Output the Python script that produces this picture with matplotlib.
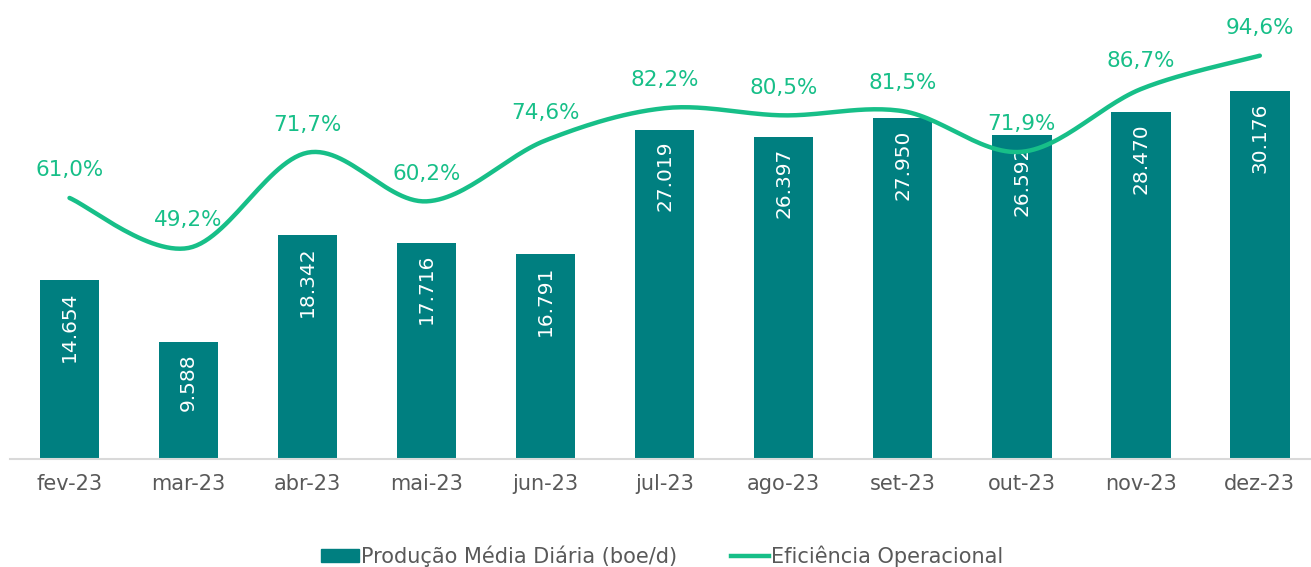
import matplotlib
matplotlib.use("Agg")
import matplotlib.pyplot as plt
import numpy as np
from matplotlib.lines import Line2D
from matplotlib.patches import Patch

# data
meses = ["fev-23", "mar-23", "abr-23", "mai-23", "jun-23", "jul-23",
         "ago-23", "set-23", "out-23", "nov-23", "dez-23"]
producao = [14654, 9588, 18342, 17716, 16791, 27019, 26397, 27950, 26592, 28470, 30176]
eficiencia = [61.0, 49.2, 71.7, 60.2, 74.6, 82.2, 80.5, 81.5, 71.9, 86.7, 94.6]

cor_barra = "#007F80"
cor_linha = "#17BF88"
cor_texto = "#595959"

plt.rcParams['font.family'] = ['DejaVu Sans']

fig = plt.figure(figsize=(13.11, 5.67), dpi=100)
ax = fig.add_axes([10/1311, 1 - 459/567, 1301/1311, 439/567])
ax2 = ax.twinx()

x = np.arange(len(meses))
ax.bar(x, producao, width=0.5, color=cor_barra, zorder=2)
ax.set_ylim(0, 36000)
ax.set_xlim(-0.5, 10.43)

# linha suavizada estilo excel (bezier catmull-rom)
def suave(xs, ys, n=30):
    px = np.concatenate([[xs[0]], xs, [xs[-1]]])
    py = np.concatenate([[ys[0]], ys, [ys[-1]]])
    ox, oy = [], []
    t = np.linspace(0, 1, n)
    for i in range(1, len(px) - 2):
        p0 = np.array([px[i], py[i]])
        p3 = np.array([px[i+1], py[i+1]])
        p1 = p0 + (np.array([px[i+1], py[i+1]]) - np.array([px[i-1], py[i-1]])) / 6
        p2 = p3 - (np.array([px[i+2], py[i+2]]) - np.array([px[i], py[i]])) / 6
        b = ((1-t)**3)[:, None]*p0 + (3*(1-t)**2*t)[:, None]*p1 + (3*(1-t)*t**2)[:, None]*p2 + (t**3)[:, None]*p3
        ox.extend(b[:, 0]); oy.extend(b[:, 1])
    return np.array(ox), np.array(oy)

sx, sy = suave(x.astype(float), np.array(eficiencia))
ax2.plot(sx, sy, color=cor_linha, lw=3.2, solid_capstyle="round", zorder=3)
ax2.set_ylim(-0.64, -0.64 + 439/4.235)

# rotulos
for xi, v in zip(x, producao):
    ax.annotate(f"{v/1000:.3f}", (xi, v), xytext=(0, -8), textcoords="offset points",
                rotation=90, ha="center", va="top", color="white", fontsize=14.5, zorder=4)
for xi, v in zip(x, eficiencia):
    ax2.annotate(f"{v:.1f}%".replace(".", ","), (xi, v), xytext=(0, 20), textcoords="offset points",
                 ha="center", va="center", color=cor_linha, fontsize=15.5, zorder=4)

for a in (ax, ax2):
    for s in ["top", "right", "left"]:
        a.spines[s].set_visible(False)
    a.set_yticks([])
ax2.spines["bottom"].set_visible(False)
ax.spines["bottom"].set_color("#D9D9D9")
ax.spines["bottom"].set_linewidth(1.5)
ax.set_xticks(x)
ax.set_xticklabels(meses, fontsize=15, color=cor_texto)
ax.tick_params(axis="x", length=0, pad=11)

handles = [Patch(color=cor_barra), Line2D([0], [0], color=cor_linha, lw=3.2)]
fig.legend(handles, ["Produção Média Diária (boe/d)", "Eficiência Operacional"],
           loc="center", bbox_to_anchor=(662/1311, 1 - 556/567), ncol=2, frameon=False,
           fontsize=15, labelcolor=cor_texto, handlelength=1.8, handletextpad=0.1, columnspacing=2.6,
           handleheight=0.6)

fig.savefig("out.png", dpi=100)
